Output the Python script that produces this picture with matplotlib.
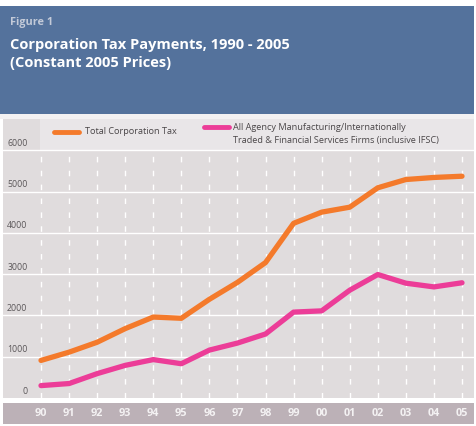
import matplotlib
matplotlib.use("Agg")
import matplotlib.pyplot as plt
from matplotlib.patches import Rectangle
from matplotlib.lines import Line2D

years = ["90", "91", "92", "93", "94", "95", "96", "97", "98", "99",
         "00", "01", "02", "03", "04", "05"]
total_ct = [910, 1110, 1350, 1680, 1960, 1930, 2390, 2800, 3280, 4230,
            4500, 4620, 5090, 5290, 5340, 5370]
agency = [300, 350, 590, 790, 930, 830, 1160, 1330, 1550, 2080,
          2110, 2610, 2990, 2780, 2690, 2790]
yticks = [0, 1000, 2000, 3000, 4000, 5000, 6000]

title_small = "Figure 1"
title_main = "Corporation Tax Payments, 1990 - 2005\n(Constant 2005 Prices)"
legend_1 = "Total Corporation Tax"
legend_2 = "All Agency Manufacturing/Internationally\nTraded & Financial Services Firms (inclusive IFSC)"

W, H = 477, 426
FONT = "Open Sans"
plt.rcParams['font.family'] = [FONT, 'DejaVu Sans']

fig = plt.figure(figsize=(W / 100, H / 100), dpi=100)
fig.patch.set_facecolor("white")


def fx(x):
    return x / W


def fy(y):
    return 1 - y / H


def rect(x0, y0, x1, y1, color, z=-5):
    fig.patches.append(Rectangle((fx(x0), fy(y1)), fx(x1) - fx(x0), fy(y0) - fy(y1),
                                 transform=fig.transFigure, facecolor=color,
                                 edgecolor="none", zorder=z))


# header box
rect(0, 6, 474, 114, "#54729c")
rect(0, 114, 474, 119, "#f3f1f2")
fig.text(fx(10), fy(23), title_small, color="#c3cad8", fontsize=7.8,
         fontweight="bold", va="center", ha="left")
fig.text(fx(10), fy(54), title_main, color="white", fontsize=10.5,
         fontweight="bold", va="center", ha="left", linespacing=1.35)

# plot background
rect(3, 119, 474, 398, "#e0dcdd")
rect(40, 119, 474, 150, "#e9e6e8")
# bottom band
rect(3, 403, 474, 424, "#bcb1b7")

# main axes
x_left_px, x_right_px = 3, 474
y_top_px, y_bot_px = 119, 398
x0_px, step = 41, (462 - 41) / 15
ppk = 41.3  # pixels per 1000
ax = fig.add_axes([fx(x_left_px), fy(y_bot_px), fx(x_right_px) - fx(x_left_px),
                   (y_bot_px - y_top_px) / H])
ax.set_zorder(5)
ax.set_xlim((x_left_px - x0_px) / step, (x_right_px - x0_px) / step)
ax.set_ylim(0, (y_bot_px - y_top_px) / ppk * 1000)
ax.patch.set_alpha(0)
for s in ax.spines.values():
    s.set_visible(False)
ax.set_xticks([])
ax.set_yticks([])

xs = list(range(len(years)))
for v in yticks[1:]:
    ax.axhline(v, color="white", lw=1.0, zorder=1)
for x in xs:
    ax.plot([x, x], [0, 6000], color="white", lw=1.0, ls=(0, (4, 6)), zorder=1)

for v in yticks:
    ax.text((27.5 - x0_px) / step, v + 7 / ppk * 1000, str(v), ha="right",
            va="center", fontsize=6.3, color="#5a5658", zorder=3)

ax.plot(xs, total_ct, color="#f47a2b", lw=3.8, solid_capstyle="round",
        solid_joinstyle="round", zorder=4)
ax.plot(xs, agency, color="#ec3d98", lw=3.8, solid_capstyle="round",
        solid_joinstyle="round", zorder=4)

# x labels
for x, lab in zip(xs, years):
    ax.text(x, -(413.5 - y_bot_px) / ppk * 1000, lab, ha="center", va="center",
            fontsize=7.8, fontweight="bold", color="#f4f2f3", clip_on=False)

# legend
fig.lines.append(Line2D([fx(54), fx(79)], [fy(132), fy(132)], transform=fig.transFigure,
                        color="#f47a2b", lw=3.5, solid_capstyle="round"))
fig.text(fx(85), fy(132), legend_1, fontsize=6.6, color="#4a4648", va="center", ha="left")
fig.lines.append(Line2D([fx(204), fx(229)], [fy(127), fy(127)], transform=fig.transFigure,
                        color="#ec3d98", lw=3.5, solid_capstyle="round"))
fig.text(fx(233), fy(134), legend_2, fontsize=6.6, color="#4a4648", va="center",
         ha="left", linespacing=1.45)

fig.savefig("out.png", dpi=100, facecolor="white")
